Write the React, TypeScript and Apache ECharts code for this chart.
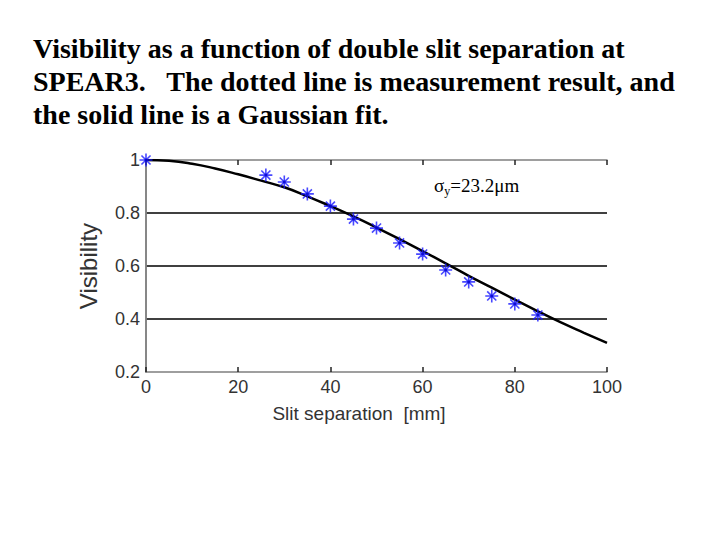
import React, { useEffect, useRef } from "react";
import * as echarts from "echarts";

const titleLines = [
  "Visibility as a function of double slit separation at",
  "SPEAR3.   The dotted line is measurement result, and",
  "the solid line is a Gaussian fit.",
];

const measX = [0, 26, 30, 35, 40, 45, 50, 55, 60, 65, 70, 75, 80, 85];
const measY = [1.0, 0.943, 0.917, 0.872, 0.826, 0.777, 0.743, 0.687, 0.645, 0.585, 0.54, 0.487, 0.457, 0.415];

const fitX = [0, 5, 10, 15, 20, 25, 30, 35, 40, 45, 50, 55, 60, 65, 70, 75, 80, 85, 90, 95, 100];
const fitY = [1.0, 0.997, 0.986, 0.968, 0.946, 0.922, 0.897, 0.863, 0.826, 0.787, 0.745, 0.701, 0.656, 0.61, 0.563, 0.518, 0.473, 0.429, 0.387, 0.348, 0.31];

const xTicks = { min: 0, max: 100, interval: 20 };
const yTicks = { min: 0.2, max: 1, interval: 0.2 };

const asterisk =
  "path://M6,0 L6,12 M0,6 L12,6 M1.8,1.8 L10.2,10.2 M1.8,10.2 L10.2,1.8";

export default function App() {
  const ref = useRef<HTMLDivElement>(null);
  useEffect(() => {
    if (!ref.current) return;
    const chart = echarts.init(ref.current, null, { renderer: "svg" });
    const gray = "#7f7f7f";
    const labelColor = "#333";
    chart.setOption({
      animation: false,
      backgroundColor: "#fff",
      title: {
        text: titleLines.join("\n"),
        left: 28,
        top: 27,
        textStyle: {
          fontFamily: "Liberation Serif",
          fontWeight: "bold",
          fontSize: 28,
          lineHeight: 33,
          color: "#000",
        },
      },
      grid: { left: 146, right: 113, top: 160, bottom: 168 },
      xAxis: [
        {
          type: "value",
          min: xTicks.min,
          max: xTicks.max,
          interval: xTicks.interval,
          position: "bottom",
          axisLine: { show: true, lineStyle: { color: gray, width: 1.5 } },
          axisTick: { show: true, inside: true, length: 5, lineStyle: { color: "#222", width: 1.5 } },
          axisLabel: { margin: 6, fontFamily: "Liberation Sans", fontSize: 18, color: labelColor },
          splitLine: { show: false },
        },
        {
          type: "value",
          min: xTicks.min,
          max: xTicks.max,
          interval: xTicks.interval,
          position: "top",
          axisLine: { show: true, lineStyle: { color: gray, width: 1.5 } },
          axisTick: { show: true, inside: true, length: 5, lineStyle: { color: "#222", width: 1.5 } },
          axisLabel: { show: false },
          splitLine: { show: false },
        },
      ],
      yAxis: [
        {
          type: "value",
          min: yTicks.min,
          max: yTicks.max,
          interval: yTicks.interval,
          position: "left",
          name: "Visibility",
          nameLocation: "middle",
          nameGap: 46,
          nameTextStyle: { fontFamily: "Liberation Sans", fontSize: 24, color: labelColor },
          axisLine: { show: true, lineStyle: { color: gray, width: 1.5 } },
          axisTick: { show: false },
          axisLabel: {
            margin: 6,
            fontFamily: "Liberation Sans",
            fontSize: 18,
            color: labelColor,
            formatter: (v: number) => (Math.abs(v - 1) < 1e-9 ? "1" : v.toFixed(1)),
          },
          splitLine: {
            show: true,
            showMinLine: false,
            showMaxLine: false,
            lineStyle: { color: "#000", width: 1.5 },
          },
        },
        {
          type: "value",
          min: yTicks.min,
          max: yTicks.max,
          interval: yTicks.interval,
          position: "right",
          axisLine: { show: true, lineStyle: { color: gray, width: 1.5 } },
          axisTick: { show: false },
          axisLabel: { show: false },
          splitLine: { show: false },
        },
      ],
      graphic: [
        {
          type: "text",
          left: 434,
          top: 176,
          style: {
            text: "{s|σ}{sub|y}{s|=23.2μm}",
            rich: {
              s: { fontFamily: "Liberation Serif", fontSize: 19, color: "#000" },
              sub: { fontFamily: "Liberation Serif", fontSize: 12, color: "#000", padding: [11, 0, 0, 0] },
            },
          },
        },
        {
          type: "text",
          x: 359,
          y: 413,
          style: {
            text: "Slit separation  [mm]",
            fontFamily: "Liberation Sans",
            fontSize: 19,
            fill: labelColor,
            align: "center",
            verticalAlign: "middle",
          },
        },
      ],
      series: [
        {
          type: "line",
          data: fitX.map((x, i) => [x, fitY[i]]),
          smooth: true,
          showSymbol: false,
          lineStyle: { color: "#000", width: 2.5 },
          z: 3,
        },
        {
          type: "scatter",
          data: measX.map((x, i) => [x, measY[i]]),
          symbol: asterisk,
          symbolSize: 13,
          itemStyle: { color: "rgba(0,0,0,0)", borderColor: "#1a1aff", borderWidth: 1.6 },
          z: 4,
        },
        {
          type: "scatter",
          data: measX.map((x, i) => [x, measY[i]]),
          symbol: "circle",
          symbolSize: 3,
          itemStyle: { color: "#0000cc" },
          z: 5,
        },
      ],
    });
    return () => chart.dispose();
  }, []);
  return (
    <div
      ref={ref}
      style={{ position: "fixed", left: 0, top: 0, width: 720, height: 540 }}
    />
  );
}
